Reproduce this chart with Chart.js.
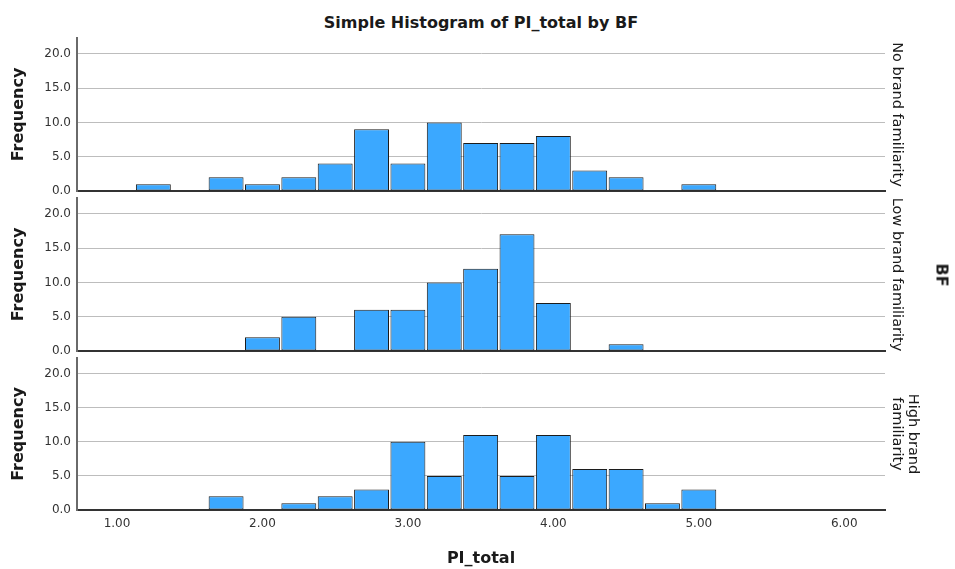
<!DOCTYPE html>
<html lang="en">
<head>
    <meta charset="UTF-8">
    <title>Simple Histogram of PI_total by BF</title>
    <script src="https://cdn.jsdelivr.net/npm/chart.js@4.4.1/dist/chart.umd.min.js"></script>
    <style>
        body {
            margin: 0;
            background: #fff;
            font-family: "DejaVu Sans", sans-serif;
        }
        #wrap {
            position: relative;
            width: 955px;
            height: 569px;
            overflow: hidden;
        }
        #wrap canvas {
            position: absolute;
            left: 0;
        }
        .title {
            position: absolute;
            left: 0;
            top: 13px;
            width: 962px;
            text-align: center;
            font-weight: bold;
            font-size: 16px;
            line-height: 20px;
            color: #1a1a1a;
        }
        .bf {
            position: absolute;
            left: 942px;
            top: 275px;
            transform: translate(-50%, -50%) rotate(90deg);
            font-weight: bold;
            font-size: 16px;
            color: #1a1a1a;
        }
    </style>
</head>
<body>
<div id="wrap">
    <div class="title">Simple Histogram of PI_total by BF</div>
    <canvas id="p1" width="955" height="185" style="top:22px"></canvas>
    <canvas id="p2" width="955" height="185" style="top:182px"></canvas>
    <canvas id="p3" width="955" height="227" style="top:342px"></canvas>
    <div class="bf">BF</div>
</div>
<script>
    // bin centres (width 0.25) and frequencies per panel
    const binCenters = [1.00, 1.25, 1.50, 1.75, 2.00, 2.25, 2.50, 2.75, 3.00, 3.25, 3.50, 3.75, 4.00, 4.25, 4.50, 4.75, 5.00];
    const noBrandCounts   = [0, 1, 0, 2, 1, 2, 4, 9, 4, 10, 7, 7, 8, 3, 2, 0, 1];
    const lowBrandCounts  = [0, 0, 0, 0, 2, 5, 0, 6, 6, 10, 12, 17, 7, 0, 1, 0, 0];
    const highBrandCounts = [0, 0, 0, 2, 0, 1, 2, 3, 10, 5, 11, 5, 11, 6, 6, 1, 3];

    const panelLabels = [
        ['No brand familiarity'],
        ['Low brand familiarity'],
        ['High brand', 'familiarity']
    ];
    const yTicks = [0, 5, 10, 15, 20];
    const xTicks = [1, 2, 3, 4, 5, 6];

    Chart.defaults.font.family = "'DejaVu Sans', sans-serif";
    Chart.defaults.color = '#333';

    function makePanel(id, counts, label, isBottom) {
        const ctx = document.getElementById(id);
        return new Chart(ctx, {
            type: 'bar',
            data: {
                datasets: [{
                    data: binCenters.map((x, i) => ({x: x, y: counts[i]})),
                    backgroundColor: '#3ba8ff',
                    borderColor: '#1c1c1c',
                    borderWidth: 1,
                    borderSkipped: false,
                    categoryPercentage: 1.0,
                    barPercentage: 0.96
                }]
            },
            options: {
                responsive: false,
                animation: false,
                // extra room so the tick label padding does not squeeze the plot
                layout: {
                    padding: {left: 0, right: 0, top: 16, bottom: isBottom ? 0 : 16}
                },
                plugins: {
                    legend: {display: false},
                    tooltip: {enabled: false}
                },
                scales: {
                    x: {
                        type: 'linear',
                        min: 0.725,
                        max: 6.28,
                        offset: false,
                        grid: {display: false, drawTicks: false, offset: false},
                        border: {display: true, color: '#333', width: 2},
                        afterBuildTicks: s => { s.ticks = xTicks.map(v => ({value: v})); },
                        afterFit: s => { s.height = isBottom ? 59 : 0; },
                        ticks: {
                            display: isBottom,
                            padding: 7,
                            font: {size: 12},
                            color: '#333',
                            callback: v => v.toFixed(2)
                        },
                        title: {
                            display: isBottom,
                            text: 'PI_total',
                            font: {size: 16, weight: 'bold'},
                            color: '#1a1a1a',
                            padding: {top: 0, bottom: 1}
                        }
                    },
                    y: {
                        position: 'left',
                        min: 0,
                        max: 22.3,
                        grid: {color: '#bdbdbd', lineWidth: 1, drawTicks: false},
                        border: {display: true, color: '#6a6a6a', width: 2},
                        afterBuildTicks: s => { s.ticks = yTicks.map(v => ({value: v})); },
                        afterFit: s => { s.width = 77; },
                        ticks: {
                            padding: 6,
                            font: {size: 12},
                            color: '#333',
                            callback: v => v.toFixed(1)
                        },
                        title: {
                            display: true,
                            text: 'Frequency',
                            font: {size: 16, weight: 'bold'},
                            color: '#1a1a1a',
                            padding: {top: 9, bottom: 0}
                        }
                    },
                    y2: {
                        position: 'right',
                        display: true,
                        grid: {display: false, drawTicks: false},
                        border: {display: false},
                        ticks: {display: false},
                        afterFit: s => { s.width = 70; },
                        title: {
                            display: true,
                            text: label,
                            font: {size: 14.5, lineHeight: 1.1},
                            color: '#1a1a1a',
                            padding: {top: label.length > 1 ? 34 : 50, bottom: 0}
                        }
                    }
                }
            }
        });
    }

    makePanel('p1', noBrandCounts, panelLabels[0], false);
    makePanel('p2', lowBrandCounts, panelLabels[1], false);
    makePanel('p3', highBrandCounts, panelLabels[2], true);
</script>
</body>
</html>
